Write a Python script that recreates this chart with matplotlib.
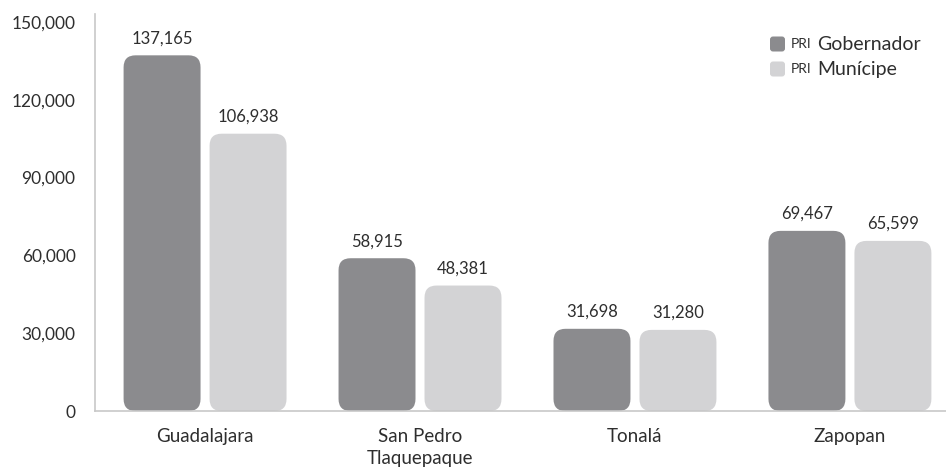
import matplotlib.pyplot as plt
from matplotlib.patches import FancyBboxPatch
import numpy as np

municipios = ['Guadalajara', 'San Pedro\nTlaquepaque', 'Tonalá', 'Zapopan']
gobernador = [137165, 58915, 31698, 69467]
municipe = [106938, 48381, 31280, 65599]
serie_nombres = ['Gobernador', 'Munícipe']
yticks = [0, 30000, 60000, 90000, 120000, 150000]

c_dark = '#8b8b8e'
c_light = '#d3d3d5'
c_text = '#2e2e2e'
plt.rcParams['font.family'] = ['Lato', 'DejaVu Sans']

W, H = 946, 471
fig = plt.figure(figsize=(W / 100, H / 100), dpi=100)
ax = fig.add_axes([95 / W, 1 - 411 / H, 1 - 95 / W + 0.02, (411 - 14) / H])
ax.set_xlim(-0.512, 3.447 + 0.02 * W / 215)
ax.set_ylim(0, 153100)

# data units per pixel
ux = (ax.get_xlim()[1] - ax.get_xlim()[0]) / (ax.get_position().width * W)
uy = (ax.get_ylim()[1] - ax.get_ylim()[0]) / (ax.get_position().height * H)
aspect = uy / ux

width = 0.358
r = 12 * ux
x = np.arange(len(municipios))
for vals, off, col in [(gobernador, -0.2, c_dark), (municipe, 0.2, c_light)]:
    for xi, v in zip(x, vals):
        p = FancyBboxPatch((xi + off - width / 2, 0), width, v,
                           boxstyle=f"round,pad=0,rounding_size={r}",
                           mutation_aspect=aspect, fc=col, ec='none', zorder=2)
        ax.add_patch(p)
        ax.text(xi + off, v + 9 * uy, f'{v:,}', ha='center', va='bottom',
                fontsize=12, color=c_text)

ax.set_yticks(yticks)
ax.set_yticklabels([f'{t:,}' for t in yticks], fontsize=12.5, color=c_text)
ax.set_xticks(x)
ax.set_xticklabels(municipios, fontsize=13.5, color=c_text, linespacing=1.35)
ax.tick_params(length=0)
ax.tick_params(axis='y', pad=14)
ax.tick_params(axis='x', pad=12)
for s in ['top', 'right']:
    ax.spines[s].set_visible(False)
for s in ['left', 'bottom']:
    ax.spines[s].set_color('#c8c8c8')
    ax.spines[s].set_linewidth(1.2)

# legend
for i, (nombre, col) in enumerate(zip(serie_nombres, [c_dark, c_light])):
    yc = 1 - (44 + i * 25) / H
    sq = FancyBboxPatch((770 / W, yc - 7.5 / H), 15 / W, 15 / H,
                        boxstyle=f"round,pad=0,rounding_size={3 / W}",
                        mutation_aspect=W / H, fc=col, ec='none',
                        transform=fig.transFigure)
    fig.patches.append(sq)
    fig.text(791 / W, yc, 'PRI', fontsize=10, color=c_text, va='center')
    fig.text(817 / W, yc, nombre, fontsize=14, color=c_text, va='center')

fig.savefig('out.png', dpi=100)
